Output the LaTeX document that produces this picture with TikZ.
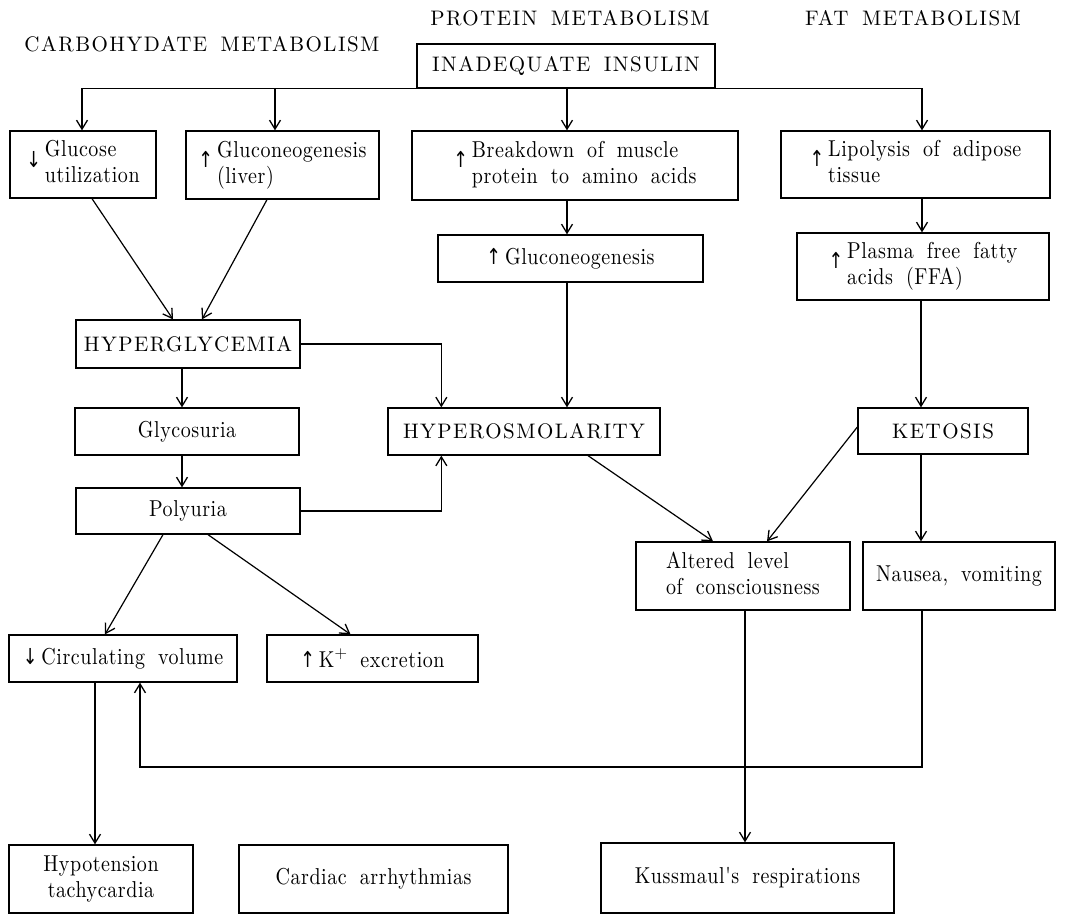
\documentclass[tikz,border=0pt]{standalone}
\usepackage{fontspec}
\setmainfont{lmroman10-regular.otf}
\newfontfamily\capsf{lmroman10-regular.otf}[LetterSpace=7,WordSpace=1.6]
\newfontfamily\bodyf{lmroman10-regular.otf}[LetterSpace=2.5,WordSpace=1.8,FakeStretch=0.87]
\newfontfamily\arrf{DejaVu Sans}[FakeStretch=0.8]
\usetikzlibrary{arrows.meta}
\newcommand{\smarr}[1]{{\arrf\fontsize{22}{22}\selectfont #1}}
\newcommand{\uparr}{\raisebox{4pt}{\smarr{↑}}\,}
\newcommand{\dnarr}{\raisebox{3pt}{\smarr{↓}}\,}
\tikzset{
  txt/.style={font=\bodyf\fontsize{23}{26}\selectfont, inner sep=0pt},
  capstxt/.style={font=\capsf\fontsize{21}{26}\selectfont, inner sep=0pt},
  bx/.style 2 args={draw, line width=1.3pt, rectangle, inner sep=0pt,
     minimum width=#1, minimum height=#2},
  arr/.style={line width=1.2pt, -{Straight Barb[length=9pt,width=11pt,line width=1.3pt]}},
  ln/.style={line width=1.2pt}
}
\begin{document}
\begin{tikzpicture}[x=1pt,y=-1pt]
\useasboundingbox (0,0) rectangle (1074,915);
% titles
\node[capstxt] (tc) at (202,44) {CARBOHYDATE METABOLISM};
\node[capstxt] (tp) at (570,18) {PROTEIN METABOLISM};
\node[capstxt] (tf) at (913,18) {FAT METABOLISM};
% boxes
\node[bx={298pt}{44pt}, capstxt] (ins) at (566,66) {INADEQUATE INSULIN};
\node[bx={146pt}{67pt}, txt] (gu) at (83,164.5)
  {\dnarr\begin{tabular}{@{}l@{}}Glucose\\utilization\end{tabular}};
\node[bx={193pt}{68pt}, txt] (gl) at (282.5,165)
  {\uparr\begin{tabular}{@{}l@{}}Gluconeogenesis\\(liver)\end{tabular}};
\node[bx={326pt}{69pt}, txt] (br) at (575,165.5)
  {\uparr\begin{tabular}{@{}l@{}}Breakdown of muscle\\protein to amino acids\end{tabular}};
\node[bx={269pt}{67pt}, txt] (lip) at (915.5,164.5)
  {\uparr\begin{tabular}{@{}l@{}}Lipolysis of adipose\\tissue\end{tabular}\hspace{14pt}};
\node[bx={265pt}{47pt}, txt] (gn) at (570.5,258.5) {\smarr{↑}\,Gluconeogenesis};
\node[bx={252pt}{67pt}, txt] (ffa) at (923,266.5)
  {\uparr\begin{tabular}{@{}l@{}}Plasma free fatty\\acids (FFA)\end{tabular}};
\node[bx={224pt}{48pt}, capstxt] (hg) at (188,344) {HYPERGLYCEMIA};
\node[bx={224pt}{47pt}, txt] (gly) at (187,431.5) {Glycosuria};
\node[bx={272pt}{47pt}, capstxt] (hos) at (524,431.5) {HYPEROSMOLARITY};
\node[bx={170pt}{46pt}, capstxt] (ket) at (943,431) {KETOSIS};
\node[bx={224pt}{46pt}, txt] (pol) at (188,511) {Polyuria};
\node[bx={214pt}{68pt}, txt] (alt) at (743,576)
  {\begin{tabular}{@{}l@{}}Altered level\\of consciousness\end{tabular}};
\node[bx={192pt}{68pt}, txt] (nau) at (959,576) {Nausea, vomiting};
\node[bx={228pt}{47pt}, txt] (cv) at (123,658.5) {\smarr{↓}\,Circulating volume};
\node[bx={211pt}{47pt}, txt] (kx) at (372.5,658.5) {\smarr{↑}\,K$^{+}$ excretion};
\node[bx={184pt}{68pt}, txt] (hyp) at (101,879)
  {\begin{tabular}{@{}c@{}}Hypotension\\tachycardia\end{tabular}};
\node[bx={269pt}{68pt}, txt] (car) at (373.5,879) {Cardiac arrhythmias};
\node[bx={293pt}{70pt}, txt] (kus) at (747.5,878) {Kussmaul's respirations};
\coordinate (fb) at (140,767);
% connectors from insulin
\draw[ln] ([xshift=-484pt]ins.south) -- ([xshift=356pt]ins.south);
\draw[arr] (ins.south) -| ([xshift=-1pt]gu.north);
\draw[arr] (ins.south) -| ([xshift=-7.5pt]gl.north);
\draw[arr] (ins.south) -| ([xshift=-8pt]br.north);
\draw[arr] (ins.south) -| ([xshift=6.5pt]lip.north);
% carbohydrate
\draw[arr] ([xshift=9pt]gu.south) -- ([xshift=-15pt]hg.north);
\draw[arr] ([xshift=-15.5pt]gl.south) -- ([xshift=14pt]hg.north);
\draw[arr] ([xshift=-6pt]hg.south) -- ([xshift=-6pt]hg.south |- gly.north);
\draw[arr] ([xshift=-5pt]gly.south) -- ([xshift=-5pt]gly.south |- pol.north);
\draw[arr] (hg.east) -| ([xshift=54pt]hos.north west);
\draw[arr] (pol.east) -| ([xshift=54pt]hos.south west);
\draw[arr] ([xshift=-25pt]pol.south) -- ([xshift=-18pt]cv.north);
\draw[arr] ([xshift=20pt]pol.south) -- ([xshift=-22pt]kx.north);
\draw[arr] ([xshift=-28pt]cv.south) -- ([xshift=-28pt]cv.south |- hyp.north);
% protein
\draw[arr] ([xshift=-8pt]br.south) -- ([xshift=-8pt]br.south |- gn.north);
\draw[arr] ([xshift=-3.5pt]gn.south) -- ([xshift=-3.5pt]gn.south |- hos.north);
\draw[arr] ([xshift=64pt]hos.south) -- ([xshift=-30pt]alt.north);
% fat
\draw[arr] ([xshift=6.5pt]lip.south) -- ([xshift=6.5pt]lip.south |- ffa.north);
\draw[arr] ([xshift=-2pt]ffa.south) -- ([xshift=-2pt]ffa.south |- ket.north);
\draw[arr] ([yshift=4pt]ket.west) -- ([xshift=24pt]alt.north);
\draw[arr] ([xshift=-22pt]ket.south) -- ([xshift=-22pt]ket.south |- nau.north);
\draw[arr] ([xshift=2pt]alt.south) -- ([xshift=2pt]alt.south |- kus.north);
\draw[arr] ([xshift=-37pt]nau.south) |- (fb) -- (fb |- cv.south);
\end{tikzpicture}
\end{document}
